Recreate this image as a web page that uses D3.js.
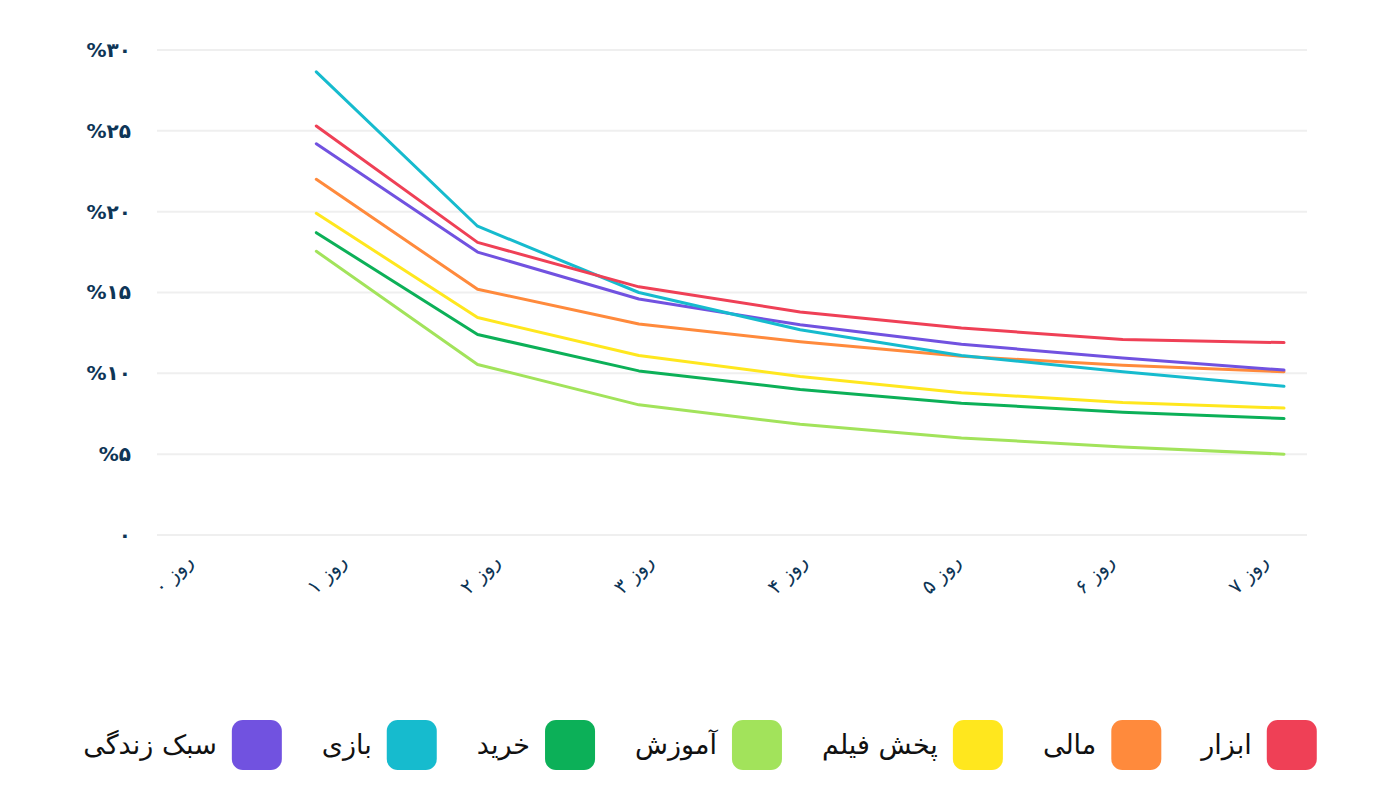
<!DOCTYPE html>
<html><head><meta charset="utf-8">
<script src="https://cdn.jsdelivr.net/npm/d3@7"></script>
<style>
html,body{margin:0;padding:0;background:#fff;}
svg{display:block;font-family:"DejaVu Sans",sans-serif;}
</style></head>
<body><svg id="c" width="1400" height="804"></svg>
<script>
const days = ["روز ۰","روز ۱","روز ۲","روز ۳","روز ۴","روز ۵","روز ۶","روز ۷"];
const yTicks = [0,5,10,15,20,25,30];
const yTickLabels = ["۰","%۵","%۱۰","%۱۵","%۲۰","%۲۵","%۳۰"];
const seriesNames = ["ابزار","مالی","پخش فیلم","آموزش","خرید","بازی","سبک زندگی"];
const seriesColors = ["#EF4056","#FF8A3C","#FFE71E","#A2E35B","#0CB058","#16BBCE","#7152E0"];
// values per day (day 0 has no data)
const abzar   = [null,25.3,18.1,15.35,13.8,12.8,12.1,11.9];
const mali    = [null,22.0,15.2,13.05,11.95,11.05,10.5,10.1];
const film    = [null,19.9,13.45,11.1,9.8,8.8,8.2,7.85];
const amoozesh= [null,17.55,10.55,8.05,6.85,6.0,5.45,5.0];
const kharid  = [null,18.7,12.4,10.15,9.0,8.15,7.6,7.2];
const bazi    = [null,28.65,19.1,15.0,12.7,11.1,10.1,9.2];
const sabk    = [null,24.2,17.5,14.6,13.0,11.8,10.95,10.2];
const seriesValues = [abzar,mali,film,amoozesh,kharid,bazi,sabk];

const svg = d3.select("#c");
const x = d3.scalePoint().domain(days).range([155,1284]);
const xLab = d3.scalePoint().domain(days).range([173,1248]);
const y = d3.scaleLinear().domain([0,30]).range([535,50]);

// grid
svg.append("g").selectAll("line").data(yTicks).join("line")
  .attr("x1",157).attr("x2",1307)
  .attr("y1",d=>y(d)).attr("y2",d=>y(d))
  .attr("stroke","#efefef").attr("stroke-width",2);

// y axis labels
const yAxis = d3.axisLeft(y).tickValues(yTicks).tickSize(0).tickPadding(0)
  .tickFormat((d,i)=>yTickLabels[i]);
const ya = svg.append("g").attr("transform","translate(131,0)").call(yAxis);
ya.select(".domain").remove();
ya.selectAll("text").attr("fill","#0E3556").attr("font-size",20).attr("font-weight","bold")
  .attr("font-family","DejaVu Sans").attr("direction","ltr").attr("dy","0.32em");

// x axis labels
const xAxis = d3.axisBottom(xLab).tickSize(0).tickPadding(0);
const xa = svg.append("g").call(xAxis);
xa.select(".domain").remove();
xa.selectAll(".tick").attr("transform",d=>`translate(${xLab(d)},574)`);
xa.selectAll("text").attr("fill","#0E3556").attr("font-size",20)
  .attr("font-family","DejaVu Sans")
  .attr("text-anchor","middle").attr("dy","0.35em").attr("y",0)
  .attr("transform","rotate(-45)");

// lines
const line = d3.line().defined(d=>d!=null).x((d,i)=>x(days[i])).y(d=>y(d));
const order = [3,4,2,1,6,5,0];
order.forEach(k=>{
  svg.append("path").datum(seriesValues[k])
    .attr("d",line).attr("fill","none")
    .attr("stroke",seriesColors[k]).attr("stroke-width",3)
    .attr("stroke-linejoin","round").attr("stroke-linecap","round");
});

// legend (RTL, centered)
const lg = svg.append("g");
const sq = 50, gapText = 15, gapItem = 40;
const items = seriesNames.map((n,i)=>{
  const t = lg.append("text").text(n).attr("font-size",27).attr("fill","#111")
    .attr("direction","rtl").attr("text-anchor","start").attr("dy","0.35em");
  const w = t.node().getComputedTextLength();
  return {t,w,i};
});
const total = items.reduce((s,it)=>s+sq+gapText+it.w,0)+gapItem*(items.length-1);
let cur = 700 + total/2;
items.forEach(it=>{
  lg.append("rect").attr("x",cur-sq).attr("y",720).attr("width",sq).attr("height",sq)
    .attr("rx",11).attr("fill",seriesColors[it.i]);
  it.t.attr("x",cur-sq-gapText).attr("y",745);
  cur -= sq+gapText+it.w+gapItem;
});
</script></body></html>
